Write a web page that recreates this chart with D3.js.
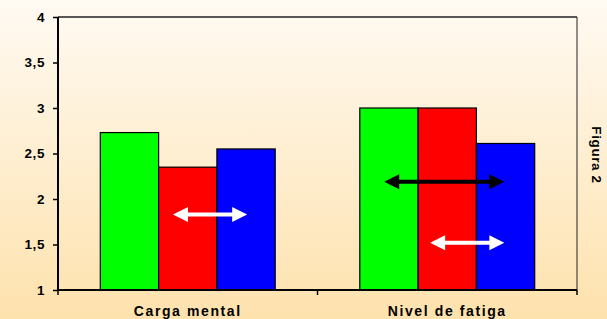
<!DOCTYPE html>
<meta charset="utf-8">
<style>
    body { margin: 0; }
    text { font-family: "Liberation Sans", Arial, sans-serif; font-weight: bold; fill: #000; }
</style>
<svg width="607" height="319"></svg>
<script src="https://d3js.org/d3.v7.min.js"></script>
<script>

    var categories = ["Carga mental", "Nivel de fatiga"];
    var series = ["s1", "s2", "s3"];
    var seriesColors = ["#00ff00", "#ff0000", "#0000ff"];
    var s1 = [2.73, 3.0];
    var s2 = [2.35, 3.0];
    var s3 = [2.55, 2.61];
    var yTicks = [1, 1.5, 2, 2.5, 3, 3.5, 4];
    var yLabels = ["1", "1,5", "2", "2,5", "3", "3,5", "4"];

    // double-headed arrows, x in category units (0..2), y in data units
    var arrowFrom = [0.443, 1.257, 1.434];
    var arrowTo = [0.729, 1.720, 1.720];
    var arrowY = [1.83, 2.19, 1.52];
    var arrowColor = ["#fff", "#000", "#fff"];

    var svg = d3.select("svg"),
        width = +svg.attr("width"),
        height = +svg.attr("height");

    var pLeft = 58, pRight = 577, pTop = 17, pBottom = 290;

    var defs = svg.append("defs");
    var grad = defs.append("linearGradient")
        .attr("id", "bg")
        .attr("x1", 0).attr("y1", 0).attr("x2", 0).attr("y2", 1);
    grad.append("stop").attr("offset", "0%").attr("stop-color", "#fffaf3");
    grad.append("stop").attr("offset", "100%").attr("stop-color", "#fee2ad");

    svg.append("rect")
        .attr("width", width)
        .attr("height", height)
        .attr("fill", "url(#bg)");

    var y = d3.scaleLinear().domain([1, 4]).range([pBottom, pTop]);
    var x0 = d3.scaleBand().domain(categories).range([pLeft, pRight]);
    var groupW = x0.bandwidth() * 0.674;
    var x1 = d3.scaleBand().domain(series)
        .range([(x0.bandwidth() - groupW) / 2, (x0.bandwidth() + groupW) / 2]);
    var xLin = d3.scaleLinear().domain([0, 2]).range([pLeft, pRight]);

    var values = [s1, s2, s3];

    // bars
    var groups = svg.append("g").selectAll("g")
        .data(categories)
        .enter().append("g")
        .attr("transform", function (d) { return "translate(" + x0(d) + ",0)"; });

    groups.selectAll("rect")
        .data(function (d, i) {
            return series.map(function (s, j) {
                return { key: s, value: values[j][i], color: seriesColors[j] };
            });
        })
        .enter().append("rect")
        .attr("x", function (d) { return x1(d.key); })
        .attr("y", function (d) { return y(d.value); })
        .attr("width", x1.bandwidth())
        .attr("height", function (d) { return y(1) - y(d.value); })
        .attr("fill", function (d) { return d.color; })
        .attr("stroke", "#000")
        .attr("stroke-width", 1.2);

    // frame: top and right thin lines
    svg.append("line")
        .attr("x1", pLeft).attr("x2", pRight).attr("y1", pTop).attr("y2", pTop)
        .attr("stroke", "#222").attr("stroke-width", 1.5);
    svg.append("line")
        .attr("x1", pRight).attr("x2", pRight).attr("y1", pTop).attr("y2", pBottom)
        .attr("stroke", "#222").attr("stroke-width", 1);

    // y axis
    var yAxis = svg.append("g")
        .attr("transform", "translate(" + pLeft + ",0)")
        .call(d3.axisLeft(y)
            .tickValues(yTicks)
            .tickFormat(function (d, i) { return yLabels[i]; })
            .tickSize(5)
            .tickPadding(8));
    yAxis.select(".domain").attr("stroke", "#000").attr("stroke-width", 2)
        .attr("d", "M0," + pTop + "V" + pBottom);
    yAxis.selectAll(".tick line").attr("stroke", "#000").attr("stroke-width", 1.5);
    yAxis.selectAll("text").attr("font-size", 13.5).attr("letter-spacing", 0.6)
        .style("font-family", "'Liberation Sans', Arial, sans-serif").style("font-weight", "bold");

    // x axis
    var xAxis = svg.append("g")
        .attr("transform", "translate(0," + pBottom + ")");
    xAxis.append("line")
        .attr("x1", pLeft).attr("x2", pRight)
        .attr("stroke", "#000").attr("stroke-width", 2);
    xAxis.selectAll(".xt")
        .data([0, 1, 2])
        .enter().append("line")
        .attr("x1", function (d) { return xLin(d); })
        .attr("x2", function (d) { return xLin(d); })
        .attr("y1", 0).attr("y2", 5)
        .attr("stroke", "#000").attr("stroke-width", 1.5);
    xAxis.selectAll("text")
        .data(categories)
        .enter().append("text")
        .attr("x", function (d) { return x0(d) + x0.bandwidth() / 2; })
        .attr("y", 26)
        .attr("text-anchor", "middle")
        .attr("font-size", 14)
        .attr("letter-spacing", 1.6)
        .text(function (d) { return d; });

    // arrows
    function arrowPath(xa, xb, yy, head, hw, sw) {
        return "M" + xa + "," + yy +
            "L" + (xa + head) + "," + (yy - hw / 2) +
            "L" + (xa + head) + "," + (yy - sw / 2) +
            "L" + (xb - head) + "," + (yy - sw / 2) +
            "L" + (xb - head) + "," + (yy - hw / 2) +
            "L" + xb + "," + yy +
            "L" + (xb - head) + "," + (yy + hw / 2) +
            "L" + (xb - head) + "," + (yy + sw / 2) +
            "L" + (xa + head) + "," + (yy + sw / 2) +
            "L" + (xa + head) + "," + (yy + hw / 2) + "Z";
    }

    svg.append("g").selectAll("path")
        .data(arrowY)
        .enter().append("path")
        .attr("d", function (d, i) {
            return arrowPath(xLin(arrowFrom[i]), xLin(arrowTo[i]), y(d), 15, 15, 4);
        })
        .attr("fill", function (d, i) { return arrowColor[i]; });

    // side caption
    svg.append("text")
        .attr("transform", "translate(592,155) rotate(90)")
        .attr("text-anchor", "middle")
        .attr("font-size", 13.5)
        .attr("letter-spacing", 0.6)
        .text("Figura 2");

</script>
